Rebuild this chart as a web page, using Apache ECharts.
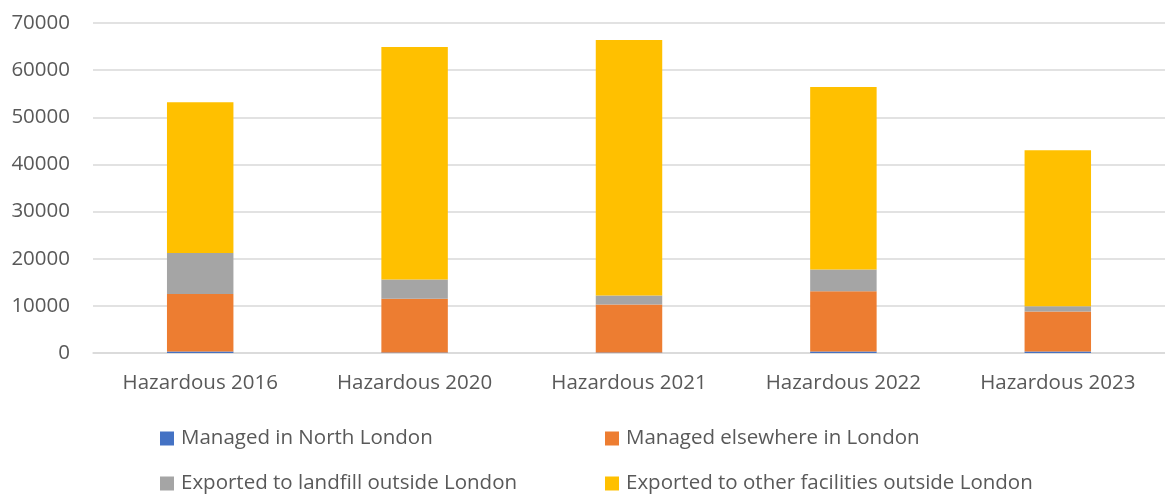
<!DOCTYPE html>
<html lang="en">
<head>
  <meta charset="UTF-8" />
  <title>Hazardous waste</title>
  <style>
    * { padding: 0; margin: 0; }
    html, body { width: 100%; height: 100%; background: #fff; }
    #chart { width: 1165px; height: 496px; }
  </style>
</head>
<body>
  <div id="chart"></div>
  <script src="https://cdn.jsdelivr.net/npm/echarts@6/dist/echarts.min.js"></script>
  <script>
    var categories = ['Hazardous 2016', 'Hazardous 2020', 'Hazardous 2021', 'Hazardous 2022', 'Hazardous 2023']
    var seriesNames = [
      'Managed in North London',
      'Managed elsewhere in London',
      'Exported to landfill outside London',
      'Exported to other facilities outside London'
    ]
    var northLondon = [300, 100, 100, 300, 300]
    var elsewhereLondon = [12200, 11400, 10200, 12800, 8500]
    var landfillOutside = [8700, 4100, 1900, 4600, 1100]
    var otherOutside = [32000, 49300, 54200, 38700, 33100]
    var colors = ['#4472C4', '#ED7D31', '#A5A5A5', '#FFC000']

    var font = 'Open Sans'
    var textColor = '#595959'
    var values = [northLondon, elsewhereLondon, landfillOutside, otherOutside]

    // one legend per item so the 2x2 layout lines up like the original
    var legendPos = [[160, 428], [605, 428], [160, 473], [605, 473]]
    var legends = seriesNames.map(function (name, i) {
      return {
        data: [name],
        left: legendPos[i][0],
        top: legendPos[i][1],
        padding: 0,
        icon: 'rect',
        itemWidth: 14,
        itemHeight: 14,
        itemGap: 0,
        textStyle: { fontFamily: font, fontSize: 20.5, color: textColor, padding: [0, 0, 0, 2] }
      }
    })

    var chart = echarts.init(document.getElementById('chart'))
    var option = {
      animation: false,
      color: colors,
      legend: legends,
      grid: { left: 93, right: 0, top: 23, bottom: 143, containLabel: false },
      xAxis: {
        type: 'category',
        data: categories,
        axisLine: { lineStyle: { color: '#d9d9d9', width: 1.5 } },
        axisTick: { show: false },
        axisLabel: { fontFamily: font, fontSize: 20.5, color: textColor, margin: 20 }
      },
      yAxis: {
        type: 'value',
        min: 0,
        max: 70000,
        interval: 10000,
        axisLine: { show: false },
        axisTick: { show: false },
        splitLine: { lineStyle: { color: '#d9d9d9', width: 1.5 } },
        axisLabel: {
          fontFamily: font, fontSize: 20.5, color: textColor, margin: 23,
          formatter: function (v) { return String(v) }
        }
      },
      series: seriesNames.map(function (name, i) {
        return {
          name: name,
          type: 'bar',
          stack: 'total',
          barWidth: '31%',
          data: values[i]
        }
      })
    }
    chart.setOption(option)
  </script>
</body>
</html>
